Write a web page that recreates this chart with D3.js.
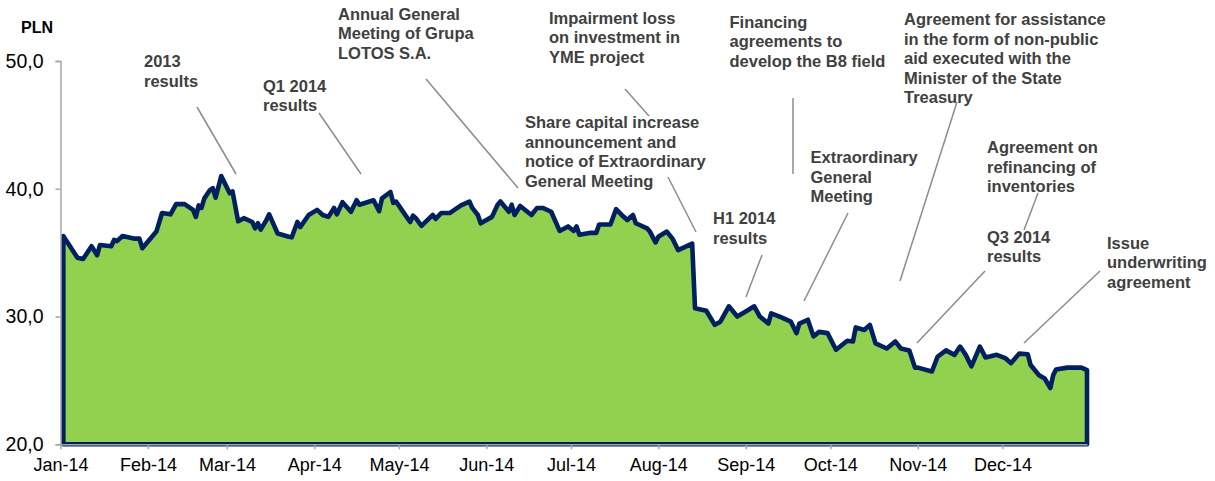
<!DOCTYPE html>
<html>
<head>
<meta charset="utf-8">
<script src="https://cdn.jsdelivr.net/npm/d3@7"></script>
<style>
  html, body { margin: 0; padding: 0; background: #ffffff; }
  svg { display: block; }
</style>
</head>
<body>
<svg id="chart" width="1215" height="481"></svg>
<script>
// Grupa LOTOS share price during 2014 (PLN), one entry per traced turning point
const dates = [
  "01-02","01-07","01-09","01-12","01-14","01-15","01-19","01-20","01-21","01-23","01-27","01-29","01-30",
  "02-04","02-06","02-09","02-11","02-14","02-17","02-18","02-19","02-20","02-21","02-23","02-24","02-25","02-27",
  "03-02","03-03","03-05","03-07","03-10","03-11","03-12","03-13","03-15","03-16","03-19","03-23","03-24","03-26","03-27","03-30",
  "04-02","04-04","04-06","04-08","04-09","04-11","04-14","04-16","04-17","04-22","04-24","04-25","04-28","04-29","04-30",
  "05-02","05-05","05-06","05-07","05-09","05-13","05-14","05-16","05-19","05-23","05-25","05-26","05-27","05-29","05-30",
  "06-03","06-05","06-06","06-09","06-10","06-11","06-13","06-17","06-19","06-21","06-24","06-27","06-30",
  "07-02","07-03","07-04","07-08","07-10","07-11","07-15","07-17","07-19","07-21","07-23","07-24","07-28","07-29","07-31",
  "08-01","08-04","08-06","08-08","08-13","08-14","08-18","08-21","08-23","08-26","08-29",
  "09-01","09-04","09-06","09-09","09-10","09-13","09-17","09-19","09-20","09-23","09-25","09-27","09-30",
  "10-03","10-07","10-09","10-10","10-13","10-15","10-17","10-21","10-24","10-26","10-29","10-31",
  "11-01","11-06","11-08","11-11","11-14","11-16","11-18","11-20","11-23","11-25","11-29",
  "12-02","12-04","12-07","12-10","12-11","12-14","12-16","12-18","12-19","12-20","12-24","12-29","12-31"
];
const prices = [
  36.3,34.6,34.5,35.5,34.8,35.6,35.5,36.0,35.9,36.3,36.1,36.1,35.35,
  36.65,38.1,38.0,38.8,38.8,38.35,37.8,38.7,38.5,39.25,39.9,40.05,39.3,41.0,
  39.65,39.8,37.45,37.7,37.4,36.9,37.3,36.8,37.55,38.0,36.5,36.25,36.2,37.4,37.0,37.95,
  38.35,37.95,37.8,38.5,38.0,38.95,38.2,39.1,38.75,39.1,38.25,39.25,39.75,38.9,39.0,
  38.35,37.4,37.9,37.7,37.1,37.95,37.65,38.1,38.1,38.7,38.9,39.0,38.5,37.95,37.3,
  37.8,38.75,39.0,38.2,38.75,37.95,38.65,37.95,38.5,38.5,38.2,36.7,37.05,
  36.7,37.05,36.4,36.55,36.55,37.2,37.2,38.4,37.95,37.55,37.95,37.3,36.9,36.65,35.8,
  36.25,36.65,36.1,35.2,35.7,30.65,30.45,29.35,29.6,30.8,30.0,
  30.4,30.8,30.0,29.45,30.25,30.0,29.6,28.7,29.45,29.75,28.45,28.8,28.7,
  27.4,28.1,28.05,29.15,28.95,29.35,27.9,27.5,28.05,27.5,27.35,26.0,
  26.0,25.7,26.85,27.35,27.0,27.65,27.0,26.1,27.65,26.8,27.0,
  26.75,26.35,27.1,27.05,26.2,25.4,25.15,24.4,25.4,25.85,26.0,26.0,25.8
];
const year = 2014;
const yTicks = [20, 30, 40, 50];
const unitLabel = "PLN";

// Event descriptions shown above the line
const eventTexts = [
  ["2013", "results"],
  ["Q1 2014", "results"],
  ["Annual General", "Meeting of Grupa", "LOTOS S.A."],
  ["Impairment loss", "on investment in", "YME project"],
  ["Share capital increase", "announcement and", "notice of Extraordinary", "General Meeting"],
  ["Financing", "agreements to", "develop the B8 field"],
  ["Agreement for assistance", "in the form of non-public", "aid executed with the", "Minister of the State", "Treasury"],
  ["Extraordinary", "General", "Meeting"],
  ["H1 2014", "results"],
  ["Agreement on", "refinancing of", "inventories"],
  ["Q3 2014", "results"],
  ["Issue", "underwriting", "agreement"]
];

// Placement of each event label (left x, first baseline y) and its leader line
const eventLayout = [
  { x: 144,   y: 67,    l: [197, 107, 236, 174] },
  { x: 263,   y: 91.7,  l: [319, 113, 361, 174] },
  { x: 338,   y: 19.5,  l: [426, 79, 518, 188] },
  { x: 549,   y: 23.5,  l: [625, 89, 649, 116] },
  { x: 525,   y: 128,   l: [668, 177, 696, 232] },
  { x: 729.5, y: 27.7,  l: [793, 98, 793, 174] },
  { x: 904,   y: 25.3,  l: [957, 102, 900, 281] },
  { x: 810.5, y: 163.3, l: [848, 213, 804, 301] },
  { x: 713,   y: 224.3, l: [762, 255, 746, 297] },
  { x: 987,   y: 153.3, l: [1038, 193, 1024, 230] },
  { x: 987,   y: 242.7, l: [985, 271, 917, 343] },
  { x: 1107,  y: 248.7, l: [1100, 271, 1024, 343] }
];

const font = "'Liberation Sans', Arial, Helvetica, sans-serif";
const svg = d3.select("#chart");

const parse = d3.utcParse("%Y-%m-%d");
const series = dates.map((d, i) => ({ date: parse(`${year}-${d}`), value: prices[i] }));

const x = d3.scaleUtc()
  .domain([parse(`${year}-01-01`), parse(`${year}-12-31`)])
  .range([60.5, 1087]);
const y = d3.scaleLinear().domain([20, 50]).range([444.3, 61]);

// Filled price area, outlined all round in navy
const area = d3.area()
  .x(d => x(d.date))
  .y0(y(20))
  .y1(d => y(d.value));

svg.append("path")
  .datum(series)
  .attr("d", area)
  .attr("fill", "#92d050")
  .attr("stroke", "#002060")
  .attr("stroke-width", 4.6)
  .attr("stroke-linejoin", "round");

// Axes
const commaLocale = d3.formatLocale({ decimal: ",", thousands: " ", grouping: [3], currency: ["", " zł"] });
const yAxis = d3.axisLeft(y)
  .tickValues(yTicks)
  .tickSize(5)
  .tickPadding(12)
  .tickFormat(commaLocale.format(".1f"));

const gy = svg.append("g").attr("transform", "translate(60.5,0)").call(yAxis);
gy.select(".domain").attr("stroke", "#a6a6a6").attr("stroke-width", 1.5);
gy.selectAll(".tick line").attr("stroke", "#a6a6a6").attr("stroke-width", 1.5);
gy.selectAll(".tick text")
  .attr("font-family", font).attr("font-size", 19.5).attr("fill", "#000");

const xAxis = d3.axisBottom(x)
  .ticks(d3.utcMonth.every(1))
  .tickSize(5)
  .tickSizeOuter(0)
  .tickPadding(9)
  .tickFormat(d3.utcFormat("%b-%y"));

const gx = svg.append("g").attr("transform", `translate(0,${y(20)})`).call(xAxis);
gx.select(".domain").attr("stroke", "#a6a6a6").attr("stroke-width", 1.5);
gx.selectAll(".tick line").attr("stroke", "#a6a6a6").attr("stroke-width", 1.5);
gx.selectAll(".tick text")
  .attr("font-family", font).attr("font-size", 18).attr("fill", "#000");

// Unit label
svg.append("text")
  .attr("x", 21).attr("y", 33)
  .attr("font-family", font).attr("font-size", 16).attr("font-weight", "bold")
  .attr("fill", "#000")
  .text(unitLabel);

// Event leader lines and labels
const ev = svg.append("g");
eventLayout.forEach((p, i) => {
  ev.append("line")
    .attr("x1", p.l[0]).attr("y1", p.l[1]).attr("x2", p.l[2]).attr("y2", p.l[3])
    .attr("stroke", "#8c8c8c").attr("stroke-width", 1.5);
  const t = ev.append("text")
    .attr("font-family", font).attr("font-size", 16.5).attr("font-weight", "bold")
    .attr("fill", "#404040");
  eventTexts[i].forEach((line, k) => {
    t.append("tspan").attr("x", p.x).attr("y", p.y + k * 19.5).text(line);
  });
});
</script>
</body>
</html>
